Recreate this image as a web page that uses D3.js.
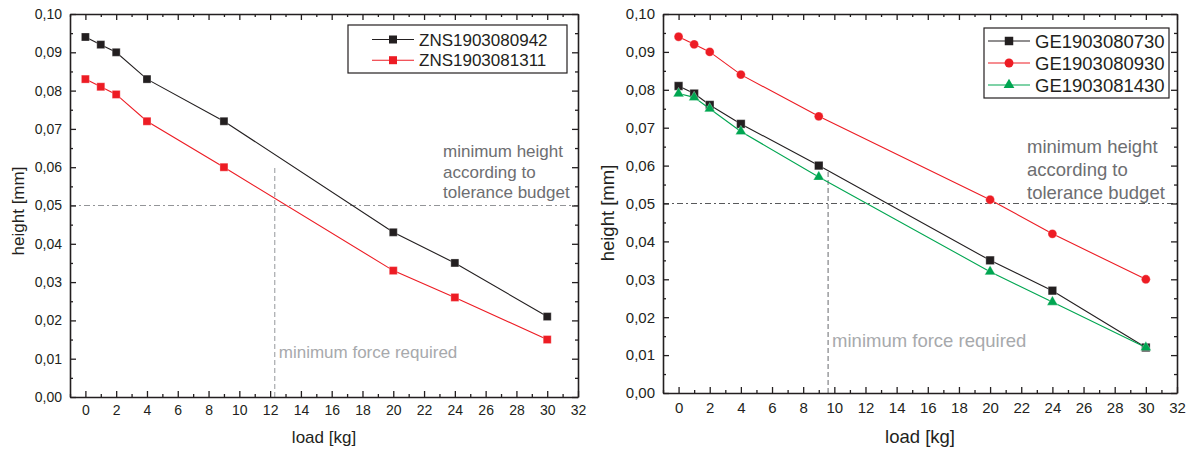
<!DOCTYPE html>
<html>
<head>
<meta charset="utf-8">
<script src="https://cdn.jsdelivr.net/npm/d3@7"></script>
<style>
  body { margin: 0; background: #fff; }
  svg text { font-family: "Liberation Sans", Arial, sans-serif; }
</style>
</head>
<body>
<svg id="chart" width="1190" height="449"></svg>
<script>
// load values (x) shared by both plots
const loads = [0, 1, 2, 4, 9, 20, 24, 30];

// left plot
const znsNames = ['ZNS1903080942', 'ZNS1903081311'];
const zns0942 = [0.094, 0.092, 0.090, 0.083, 0.072, 0.043, 0.035, 0.021];
const zns1311 = [0.083, 0.081, 0.079, 0.072, 0.060, 0.033, 0.026, 0.015];

// right plot
const geNames = ['GE1903080730', 'GE1903080930', 'GE1903081430'];
const ge0730 = [0.081, 0.079, 0.076, 0.071, 0.060, 0.035, 0.027, 0.012];
const ge0930 = [0.094, 0.092, 0.090, 0.084, 0.073, 0.051, 0.042, 0.030];
const ge1430 = [0.079, 0.078, 0.075, 0.069, 0.057, 0.032, 0.024, 0.012];

// ticks
const xTicks = [0, 2, 4, 6, 8, 10, 12, 14, 16, 18, 20, 22, 24, 26, 28, 30, 32];
const xMinor = [-1, 1, 3, 5, 7, 9, 11, 13, 15, 17, 19, 21, 23, 25, 27, 29, 31];
const yTicks = [0, 0.01, 0.02, 0.03, 0.04, 0.05, 0.06, 0.07, 0.08, 0.09, 0.10];
const yMinor = [0.005, 0.015, 0.025, 0.035, 0.045, 0.055, 0.065, 0.075, 0.085, 0.095];

// reference lines
const minHeight = 0.05;
const minForceLeft = 12.3, minForceLeftTop = 0.060;
const minForceRight = 9.6, minForceRightTop = 0.059;

const commaFmt = d3.formatLocale({decimal: ',', thousands: '.', grouping: [3], currency: ['', '']}).format('.2f');

const svg = d3.select('#chart');
const ink = '#231f20';

function drawPanel(p) {
  const x = d3.scaleLinear().domain([-1, 32]).range([p.left, p.right]);
  const y = d3.scaleLinear().domain([0, 0.10]).range([p.bottom, p.top]);
  const g = svg.append('g');

  // reference lines
  g.append('line')
    .attr('x1', x(-1)).attr('x2', x(32))
    .attr('y1', y(minHeight)).attr('y2', y(minHeight))
    .attr('stroke', p.hColor).attr('stroke-width', 1)
    .attr('stroke-dasharray', '6,3,2,3');
  g.append('line')
    .attr('x1', x(p.force)).attr('x2', x(p.force))
    .attr('y1', y(0)).attr('y2', y(p.forceTop))
    .attr('stroke', p.vColor).attr('stroke-width', 1.2)
    .attr('stroke-dasharray', '5,3');

  // axes (ticks inward)
  const axes = [
    [d3.axisBottom(x), `translate(0,${p.bottom})`, xTicks, xMinor, true],
    [d3.axisTop(x), `translate(0,${p.top})`, xTicks, xMinor, false],
    [d3.axisLeft(y), `translate(${p.left},0)`, yTicks, yMinor, true],
    [d3.axisRight(y), `translate(${p.right},0)`, yTicks, yMinor, false]
  ];
  axes.forEach(([ax, tr, major, minor, labels]) => {
    const isY = tr.includes(',0)');
    const a = ax.tickValues(major).tickSizeInner(-6).tickSizeOuter(0).tickPadding(isY ? 8 : p.xPad)
      .tickFormat(labels ? (isY ? commaFmt : d3.format('d')) : '');
    const ga = g.append('g').attr('transform', tr).call(a);
    ga.select('.domain').attr('stroke', ink).attr('stroke-width', 1.6);
    ga.selectAll('.tick line').attr('stroke', ink).attr('stroke-width', 1.3);
    ga.selectAll('.tick text').attr('fill', ink).attr('font-size', p.tickFont)
      .attr('font-family', '"Liberation Sans", Arial, sans-serif');
    const m = g.append('g').attr('transform', tr)
      .call(ax.tickValues(minor).tickSizeInner(-3).tickFormat(''));
    m.select('.domain').remove();
    m.selectAll('.tick line').attr('stroke', ink).attr('stroke-width', 1.3);
  });

  // axis titles
  g.append('text')
    .attr('x', (p.left + p.right) / 2).attr('y', p.bottom + p.titleGap)
    .attr('text-anchor', 'middle').attr('font-size', p.titleFont).attr('fill', ink)
    .text('load [kg]');
  g.append('text')
    .attr('transform', `translate(${p.yTitleX},${p.yTitleY}) rotate(-90)`)
    .attr('text-anchor', 'middle').attr('font-size', p.titleFont).attr('fill', ink)
    .text('height [mm]');

  // annotations
  const note = g.append('text')
    .attr('font-size', p.noteFont).attr('fill', '#6d6e71');
  ['minimum height', 'according to', 'tolerance budget'].forEach((t, i) => {
    note.append('tspan').attr('x', p.noteX).attr('y', p.noteY + i * p.noteStep).text(t);
  });
  g.append('text')
    .attr('x', x(p.force) + 4).attr('y', p.forceTextY)
    .attr('font-size', p.noteFont).attr('fill', '#a7a9ac')
    .text('minimum force required');

  // series
  const line = d3.line().x(d => x(d[0])).y(d => y(d[1]));
  p.series.forEach(s => {
    const pts = loads.map((l, i) => [l, s.values[i]]);
    g.append('path').datum(pts)
      .attr('fill', 'none').attr('stroke', s.color).attr('stroke-width', 1.1)
      .attr('d', line);
    g.selectAll(null).data(pts).enter().append('path')
      .attr('transform', d => `translate(${x(d[0])},${y(d[1])})`)
      .attr('d', d3.symbol().type(s.symbol).size(s.size))
      .attr('fill', s.color).attr('stroke', '#fff').attr('stroke-opacity', 0.5).attr('stroke-width', 0.6);
  });

  // legend
  const L = p.legend;
  const lg = g.append('g');
  lg.append('rect')
    .attr('x', L.x).attr('y', L.y)
    .attr('width', L.w).attr('height', L.h)
    .attr('fill', '#fff').attr('stroke', ink).attr('stroke-width', 1.2);
  p.series.forEach((s, i) => {
    const cy = L.y + L.row0 + i * L.step;
    lg.append('line')
      .attr('x1', L.x + L.pad).attr('x2', L.x + L.pad + 42)
      .attr('y1', cy).attr('y2', cy)
      .attr('stroke', s.color).attr('stroke-width', 1.1);
    lg.append('path')
      .attr('transform', `translate(${L.x + L.pad + 21},${cy})`)
      .attr('d', d3.symbol().type(s.symbol).size(s.size))
      .attr('fill', s.color);
    lg.append('text')
      .attr('x', L.x + L.pad + 47).attr('y', cy).attr('dy', '0.36em')
      .attr('font-size', p.legendFont).attr('fill', ink)
      .text(s.name);
  });
}

drawPanel({
  left: 70, right: 578, top: 14, bottom: 397,
  xPad: 8, tickFont: 14, titleFont: 17, titleGap: 46, yTitleX: 24, yTitleY: 211,
  hColor: '#939598', vColor: '#a7a9ac',
  force: minForceLeft, forceTop: minForceLeftTop, forceTextY: 358,
  noteFont: 17, noteX: 443, noteY: 157, noteStep: 20.5,
  legend: {x: 348, y: 25, w: 219, h: 48, row0: 14.5, step: 20.7, pad: 24},
  legendFont: 17,
  series: [
    {name: znsNames[0], values: zns0942, color: ink, symbol: d3.symbolSquare, size: 64},
    {name: znsNames[1], values: zns1311, color: '#ed1c24', symbol: d3.symbolSquare, size: 64}
  ]
});

drawPanel({
  left: 663, right: 1177, top: 14, bottom: 393,
  xPad: 9, tickFont: 15, titleFont: 18.5, titleGap: 50, yTitleX: 614, yTitleY: 213,
  hColor: '#58595b', vColor: '#808285',
  force: minForceRight, forceTop: minForceRightTop, forceTextY: 347,
  noteFont: 18.5, noteX: 1027, noteY: 153, noteStep: 23,
  legend: {x: 984, y: 28, w: 185, h: 70, row0: 13, step: 22, pad: 4},
  legendFont: 18.5,
  series: [
    {name: geNames[0], values: ge0730, color: ink, symbol: d3.symbolSquare, size: 72},
    {name: geNames[1], values: ge0930, color: '#ed1c24', symbol: d3.symbolCircle, size: 62},
    {name: geNames[2], values: ge1430, color: '#00a651', symbol: d3.symbolTriangle, size: 50}
  ]
});
</script>
</body>
</html>
